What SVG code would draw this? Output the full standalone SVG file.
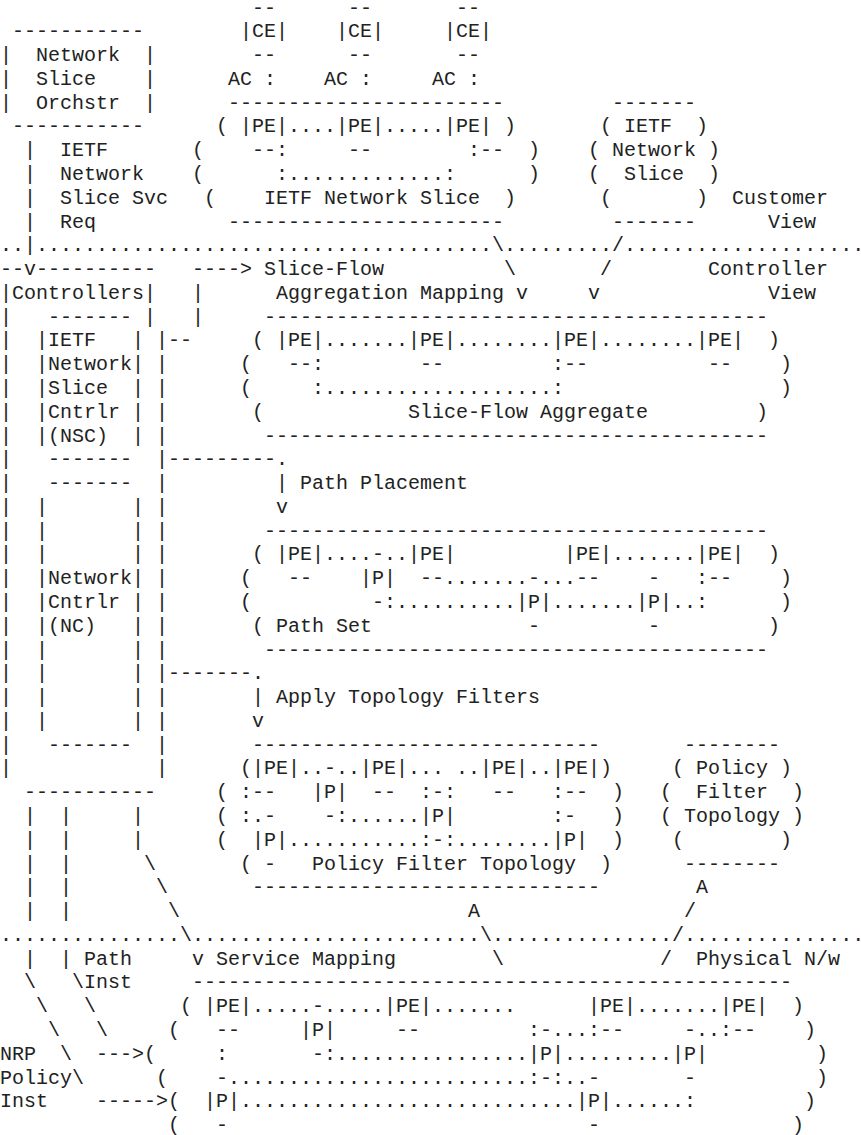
<svg xmlns="http://www.w3.org/2000/svg" width="861" height="1135" viewBox="0 0 861 1135">
<style>
text{font-family:"Liberation Mono","Courier New",monospace;font-size:20px;fill:#222;white-space:pre}
</style>
<rect width="861" height="1135" fill="#fff"/>
<g id="orchestrator">
<text xml:space="preserve" x="12" y="37.28">-----------</text>
<text xml:space="preserve" x="0" y="61.06">|  Network  |</text>
<text xml:space="preserve" x="0" y="84.84">|  Slice    |</text>
<text xml:space="preserve" x="0" y="108.62">|  Orchstr  |</text>
<text xml:space="preserve" x="12" y="132.4">-----------</text>
</g>
<g id="ietf-network-slice">
<text x="252" y="13.5">--</text><text x="348" y="13.5">--</text><text x="456" y="13.5">--</text>
<text x="240" y="37.28">|CE|</text><text x="336" y="37.28">|CE|</text><text x="444" y="37.28">|CE|</text>
<text x="252" y="61.06">--</text><text x="348" y="61.06">--</text><text x="456" y="61.06">--</text>
<text xml:space="preserve" x="228" y="84.84">AC :</text><text xml:space="preserve" x="324" y="84.84">AC :</text><text xml:space="preserve" x="432" y="84.84">AC :</text>
<text x="228" y="108.62">-----------------------</text>
<text xml:space="preserve" x="216" y="132.4">( |PE|....|PE|.....|PE| )</text>
<text x="192" y="156.18">(</text><text x="252" y="156.18">--:</text><text x="348" y="156.18">--</text><text x="468" y="156.18">:--</text><text x="528" y="156.18">)</text>
<text x="192" y="179.96">(</text><text x="276" y="179.96">:.............:</text><text x="528" y="179.96">)</text>
<text x="204" y="203.74">(</text><text xml:space="preserve" x="264" y="203.74">IETF Network Slice</text><text x="504" y="203.74">)</text>
<text x="228" y="227.52">-----------------------</text>
</g>
<g id="ietf-network-slice-customer">
<text x="612" y="108.62">-------</text>
<text xml:space="preserve" x="600" y="132.4">( IETF  )</text>
<text xml:space="preserve" x="588" y="156.18">( Network )</text>
<text xml:space="preserve" x="588" y="179.96">(  Slice  )</text>
<text xml:space="preserve" x="600" y="203.74">(       )</text>
<text x="612" y="227.52">-------</text>
</g>
<g id="view-labels">
<text x="732" y="203.74">Customer</text>
<text x="768" y="227.52">View</text>
<text x="708" y="275.08">Controller</text>
<text x="768" y="298.86">View</text>
<text xml:space="preserve" x="696" y="964.7">Physical N/w</text>
</g>
<g id="controllers">
<text x="0" y="275.08">--v----------</text>
<text x="0" y="298.86">|Controllers|</text>
<text xml:space="preserve" x="0" y="322.64">|   ------- |</text>
<text xml:space="preserve" x="0" y="346.42">|  |IETF   | |</text>
<text xml:space="preserve" x="0" y="370.2">|  |Network| |</text>
<text xml:space="preserve" x="0" y="393.98">|  |Slice  | |</text>
<text xml:space="preserve" x="0" y="417.76">|  |Cntrlr | |</text>
<text xml:space="preserve" x="0" y="441.54">|  |(NSC)  | |</text>
<text xml:space="preserve" x="0" y="465.32">|   -------  |</text>
<text xml:space="preserve" x="0" y="489.1">|   -------  |</text>
<text xml:space="preserve" x="0" y="512.88">|  |       | |</text>
<text xml:space="preserve" x="0" y="536.66">|  |       | |</text>
<text xml:space="preserve" x="0" y="560.44">|  |       | |</text>
<text xml:space="preserve" x="0" y="584.22">|  |Network| |</text>
<text xml:space="preserve" x="0" y="608">|  |Cntrlr | |</text>
<text xml:space="preserve" x="0" y="631.78">|  |(NC)   | |</text>
<text xml:space="preserve" x="0" y="655.56">|  |       | |</text>
<text xml:space="preserve" x="0" y="679.34">|  |       | |</text>
<text xml:space="preserve" x="0" y="703.12">|  |       | |</text>
<text xml:space="preserve" x="0" y="726.9">|  |       | |</text>
<text xml:space="preserve" x="0" y="750.68">|   -------  |</text>
<text xml:space="preserve" x="0" y="774.46">|            |</text>
<text x="24" y="798.24">-----------</text>
</g>
<g id="slice-flow-aggregate">
<text x="264" y="322.64">------------------------------------------</text>
<text xml:space="preserve" x="252" y="346.42">( |PE|.......|PE|........|PE|........|PE|  )</text>
<text x="240" y="370.2">(</text><text x="288" y="370.2">--:</text><text x="420" y="370.2">--</text><text x="552" y="370.2">:--</text><text x="708" y="370.2">--</text><text x="780" y="370.2">)</text>
<text x="240" y="393.98">(</text><text x="312" y="393.98">:...................:</text><text x="780" y="393.98">)</text>
<text x="252" y="417.76">(</text><text xml:space="preserve" x="408" y="417.76">Slice-Flow Aggregate</text><text x="756" y="417.76">)</text>
<text x="264" y="441.54">------------------------------------------</text>
</g>
<g id="path-set">
<text x="264" y="536.66">------------------------------------------</text>
<text xml:space="preserve" x="252" y="560.44">( |PE|....-..|PE|         |PE|.......|PE|  )</text>
<text x="240" y="584.22">(</text><text x="288" y="584.22">--</text><text x="360" y="584.22">|P|</text><text x="420" y="584.22">--.......-...--</text><text x="648" y="584.22">-</text><text x="696" y="584.22">:--</text><text x="780" y="584.22">)</text>
<text x="240" y="608">(</text><text x="372" y="608">-:..........|P|.......|P|..:</text><text x="780" y="608">)</text>
<text xml:space="preserve" x="252" y="631.78">( Path Set</text><text x="528" y="631.78">-</text><text x="648" y="631.78">-</text><text x="768" y="631.78">)</text>
<text x="264" y="655.56">------------------------------------------</text>
</g>
<g id="policy-filter-topology">
<text x="252" y="750.68">-----------------------------</text>
<text xml:space="preserve" x="240" y="774.46">(|PE|..-..|PE|... ..|PE|..|PE|)</text>
<text x="216" y="798.24">(</text><text x="240" y="798.24">:--</text><text x="312" y="798.24">|P|</text><text x="372" y="798.24">--</text><text x="420" y="798.24">:-:</text><text x="492" y="798.24">--</text><text x="552" y="798.24">:--</text><text x="612" y="798.24">)</text>
<text x="216" y="822.02">(</text><text x="240" y="822.02">:.-</text><text x="324" y="822.02">-:......|P|</text><text x="552" y="822.02">:-</text><text x="612" y="822.02">)</text>
<text x="216" y="845.8">(</text><text x="252" y="845.8">|P|...........:-:........|P|</text><text x="612" y="845.8">)</text>
<text xml:space="preserve" x="240" y="869.58">( -   Policy Filter Topology  )</text>
<text x="252" y="893.36">-----------------------------</text>
</g>
<g id="policy-filter-cloud">
<text x="684" y="750.68">--------</text>
<text xml:space="preserve" x="672" y="774.46">( Policy )</text>
<text xml:space="preserve" x="660" y="798.24">(  Filter  )</text>
<text xml:space="preserve" x="660" y="822.02">( Topology )</text>
<text xml:space="preserve" x="672" y="845.8">(        )</text>
<text x="684" y="869.58">--------</text>
</g>
<g id="physical-network">
<text x="192" y="988.48">--------------------------------------------------</text>
<text xml:space="preserve" x="180" y="1012.26">( |PE|.....-.....|PE|.......      |PE|.......|PE|  )</text>
<text x="168" y="1036.04">(</text><text x="216" y="1036.04">--</text><text x="300" y="1036.04">|P|</text><text x="396" y="1036.04">--</text><text x="528" y="1036.04">:-...:--</text><text x="684" y="1036.04">-..:--</text><text x="804" y="1036.04">)</text>
<text x="144" y="1059.82">(</text><text x="216" y="1059.82">:</text><text x="312" y="1059.82">-:................|P|.........|P|</text><text x="816" y="1059.82">)</text>
<text x="156" y="1083.6">(</text><text x="216" y="1083.6">-.........................:-:..-</text><text x="684" y="1083.6">-</text><text x="816" y="1083.6">)</text>
<text x="168" y="1107.38">(</text><text x="204" y="1107.38">|P|............................|P|......:</text><text x="804" y="1107.38">)</text>
<text x="168" y="1131.16">(</text><text x="216" y="1131.16">-</text><text x="588" y="1131.16">-</text><text x="792" y="1131.16">)</text>
</g>
<g id="connectors">
<text xml:space="preserve" x="24" y="156.18">|  IETF</text>
<text xml:space="preserve" x="24" y="179.96">|  Network</text>
<text xml:space="preserve" x="24" y="203.74">|  Slice Svc</text>
<text xml:space="preserve" x="24" y="227.52">|  Req</text>
<text x="0" y="251.3">..|......................................\........./....................</text>
<text x="192" y="275.08">----&gt;</text><text x="264" y="275.08">Slice-Flow</text><text x="504" y="275.08">\</text><text x="600" y="275.08">/</text>
<text x="192" y="298.86">|</text><text xml:space="preserve" x="276" y="298.86">Aggregation Mapping</text><text x="516" y="298.86">v</text><text x="588" y="298.86">v</text>
<text x="192" y="322.64">|</text>
<text x="168" y="346.42">--</text>
<text x="168" y="465.32">---------.</text>
<text xml:space="preserve" x="276" y="489.1">| Path Placement</text>
<text x="276" y="512.88">v</text>
<text x="168" y="679.34">-------.</text>
<text xml:space="preserve" x="252" y="703.12">| Apply Topology Filters</text>
<text x="252" y="726.9">v</text>
<text xml:space="preserve" x="24" y="822.02">|  |     |</text>
<text xml:space="preserve" x="24" y="845.8">|  |     |</text>
<text xml:space="preserve" x="24" y="869.58">|  |</text><text x="144" y="869.58">\</text>
<text xml:space="preserve" x="24" y="893.36">|  |</text><text x="156" y="893.36">\</text>
<text x="696" y="893.36">A</text>
<text xml:space="preserve" x="24" y="917.14">|  |</text><text x="168" y="917.14">\</text>
<text x="468" y="917.14">A</text><text x="684" y="917.14">/</text>
<text x="0" y="940.92">...............\........................\.............../...............</text>
<text xml:space="preserve" x="24" y="964.7">|  | Path</text><text xml:space="preserve" x="192" y="964.7">v Service Mapping</text><text x="492" y="964.7">\</text><text x="660" y="964.7">/</text>
<text xml:space="preserve" x="24" y="988.48">\   \Inst</text>
<text xml:space="preserve" x="36" y="1012.26">\   \</text>
<text xml:space="preserve" x="48" y="1036.04">\   \</text>
<text xml:space="preserve" x="0" y="1059.82">NRP  \  ---&gt;</text>
<text x="0" y="1083.6">Policy\</text>
<text xml:space="preserve" x="0" y="1107.38">Inst    -----&gt;</text>
</g>
</svg>
